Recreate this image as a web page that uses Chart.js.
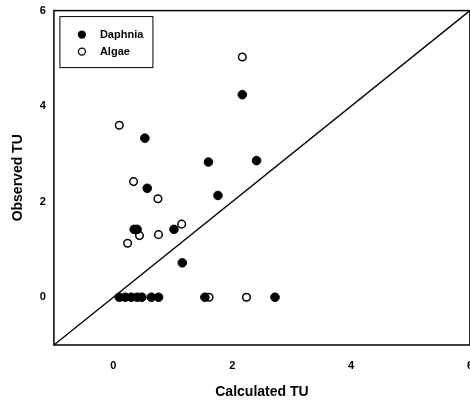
<!DOCTYPE html>
<html>
<head>
<meta charset="utf-8">
<script src="https://cdn.jsdelivr.net/npm/chart.js@4.4.1/dist/chart.umd.min.js"></script>
<style>
  html, body { margin: 0; padding: 0; background: #fff; overflow: hidden; }
  #wrap { width: 483px; height: 403px; }
</style>
</head>
<body>
<div id="wrap"><canvas id="tuchart"></canvas></div>
<script>
// values
const daphniaX = [0.53, 0.57, 0.35, 0.40, 1.02, 1.16, 1.60, 1.76, 2.17, 2.41,
                  0.10, 0.20, 0.30, 0.40, 0.48, 0.64, 0.76, 1.54, 2.72];
const daphniaY = [3.33, 2.28, 1.42, 1.42, 1.42, 0.72, 2.83, 2.13, 4.24, 2.86,
                  0, 0, 0, 0, 0, 0, 0, 0, 0];
const algaeX = [0.10, 0.34, 0.75, 0.44, 0.24, 0.76, 1.15, 2.17, 1.61, 2.24];
const algaeY = [3.60, 2.42, 2.06, 1.29, 1.13, 1.31, 1.53, 5.03, 0, 0];
const lineX = [-1, 6];
const xTicks = [0, 2, 4, 6];
const yTicks = [0, 2, 4, 6];
const seriesNames = ['Daphnia', 'Algae'];

const pts = (xs, ys) => xs.map((x, i) => ({ x: x, y: ys[i] }));
const family = '"Liberation Sans", Arial, sans-serif';

// frame + boxed legend in the upper-left corner
const framePlugin = {
    id: 'frame',
    afterDraw(chart) {
        const { ctx, chartArea: a } = chart;
        ctx.save();
        ctx.strokeStyle = '#000';
        ctx.lineWidth = 1.5;
        ctx.strokeRect(a.left, a.top, a.right - a.left, a.bottom - a.top);

        const bx = a.left + 6, by = a.top + 6, bw = 93, bh = 51;
        ctx.lineWidth = 1;
        ctx.strokeRect(bx, by, bw, bh);
        ctx.font = 'bold 11px ' + family;
        ctx.textBaseline = 'middle';
        ctx.fillStyle = '#000';
        chart.data.datasets.slice(0, 2).forEach((ds, i) => {
            const cy = by + 18 + i * 17;
            ctx.beginPath();
            ctx.arc(bx + 22, cy, 3.5, 0, Math.PI * 2);
            ctx.fillStyle = ds.backgroundColor;
            ctx.fill();
            ctx.lineWidth = 1.3;
            ctx.strokeStyle = '#000';
            ctx.stroke();
            ctx.fillStyle = '#000';
            ctx.fillText(ds.label, bx + 40, cy);
        });
        ctx.restore();
    }
};

const ctx = document.getElementById('tuchart').getContext('2d');
new Chart(ctx, {
    type: 'scatter',
    data: {
        datasets: [
            {
                label: seriesNames[0],
                data: pts(daphniaX, daphniaY),
                backgroundColor: '#000',
                borderColor: '#000',
                borderWidth: 1,
                pointRadius: 4.3
            },
            {
                label: seriesNames[1],
                data: pts(algaeX, algaeY),
                backgroundColor: '#fff',
                borderColor: '#000',
                borderWidth: 1.5,
                pointRadius: 3.8
            },
            {
                label: '1:1',
                type: 'line',
                data: pts(lineX, lineX),
                borderColor: '#000',
                borderWidth: 1.3,
                pointRadius: 0,
                fill: false
            }
        ]
    },
    options: {
        responsive: true,
        maintainAspectRatio: false,
        animation: false,
        layout: { padding: { left: 10, top: 4, right: 0, bottom: 2 } },
        plugins: {
            legend: { display: false },
            tooltip: { enabled: false }
        },
        scales: {
            x: {
                type: 'linear',
                min: -1,
                max: 6,
                afterBuildTicks: (axis) => { axis.ticks = xTicks.map(v => ({ value: v })); },
                grid: { display: false, drawTicks: true, tickLength: 4, tickColor: '#000' },
                border: { display: false },
                ticks: {
                    color: '#000',
                    padding: 10,
                    font: { family: family, size: 11, weight: 'bold' }
                },
                title: {
                    display: true,
                    text: 'Calculated TU',
                    color: '#000',
                    padding: { top: 2, bottom: 0 },
                    font: { family: family, size: 14, weight: 'bold' }
                }
            },
            y: {
                type: 'linear',
                min: -1,
                max: 6,
                afterBuildTicks: (axis) => { axis.ticks = yTicks.map(v => ({ value: v })); },
                grid: { display: false, drawTicks: true, tickLength: 4, tickColor: '#000' },
                border: { display: false },
                ticks: {
                    color: '#000',
                    padding: 4,
                    font: { family: family, size: 11, weight: 'bold' }
                },
                title: {
                    display: true,
                    text: 'Observed TU',
                    color: '#000',
                    padding: { top: 0, bottom: 9 },
                    font: { family: family, size: 14, weight: 'bold' }
                }
            }
        }
    },
    plugins: [framePlugin]
});
</script>
</body>
</html>
